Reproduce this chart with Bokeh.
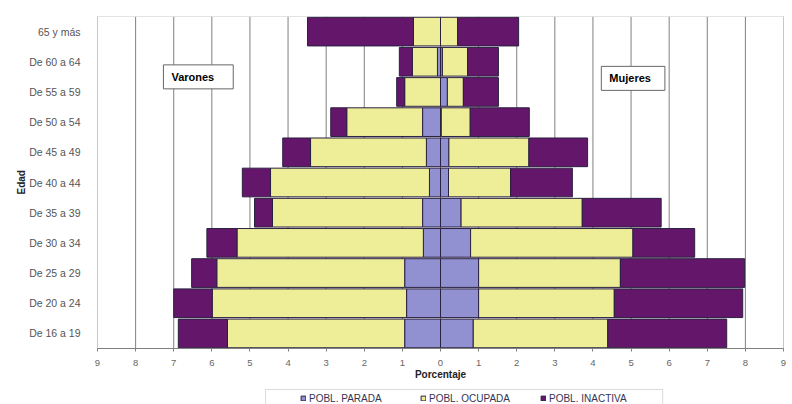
from bokeh.plotting import figure
from bokeh.models import (Range1d, FixedTicker, Legend, LegendItem, Label, BoxAnnotation, Title)
from bokeh.embed import file_html
from bokeh.resources import INLINE
import numpy as np

# ---------------- data ----------------
edades = ["De 16 a 19", "De 20 a 24", "De 25 a 29", "De 30 a 34", "De 35 a 39",
          "De 40 a 44", "De 45 a 49", "De 50 a 54", "De 55 a 59", "De 60 a 64",
          "65 y más"]

var_parada   = [0.94, 0.89, 0.94, 0.45, 0.47, 0.29, 0.37, 0.47, 0.00, 0.08, 0.00]
var_ocupada  = [4.65, 5.10, 4.93, 4.89, 3.94, 4.17, 3.04, 1.99, 0.94, 0.66, 0.71]
var_inactiva = [1.29, 1.01, 0.66, 0.79, 0.47, 0.74, 0.73, 0.42, 0.21, 0.34, 2.78]

muj_parada   = [0.86, 1.00, 1.00, 0.79, 0.54, 0.21, 0.22, 0.02, 0.18, 0.05, 0.00]
muj_ocupada  = [3.53, 3.56, 3.72, 4.26, 3.18, 1.63, 2.10, 0.76, 0.42, 0.66, 0.45]
muj_inactiva = [3.12, 3.37, 3.26, 1.62, 2.07, 1.62, 1.54, 1.55, 0.92, 0.81, 1.60]

series = ["POBL. PARADA", "POBL. OCUPADA", "POBL. INACTIVA"]
x_ticks = list(range(-9, 10))

# ---------------- style ----------------
FONT = "Liberation Sans"
COLORS = ["#9191d2", "#eeee98", "#64176a"]
EDGE = "#2a2040"

n = len(edades)
ypos = np.arange(n) + 0.5          # category centres
Y_BOTTOM = -1.855                  # room under the bar area for axis texts and legend
X_PAD = 0.21                       # room beside the bar area for the outer tick labels

p = figure(width=792, height=404, output_backend="svg", toolbar_location=None,
           x_range=Range1d(x_ticks[0] - X_PAD, x_ticks[-1] + X_PAD),
           y_range=Range1d(Y_BOTTOM, n),
           min_border_left=89, min_border_right=1, min_border_top=16,
           min_border_bottom=0)
p.background_fill_color = "white"
p.border_fill_color = "white"
p.outline_line_color = None

# vertical grid lines and plot-area border (restricted to the bar area)
p.segment(x0=x_ticks, y0=[0] * len(x_ticks), x1=x_ticks, y1=[n] * len(x_ticks),
          line_color="#808080", line_width=1)
p.quad(left=[x_ticks[0]], right=[x_ticks[-1]], bottom=[0], top=[n],
       fill_color=None, line_color="#c8c8c8", line_width=1)

# stacked bars: men to the left (negative), women to the right
male = [np.array(var_parada), np.array(var_ocupada), np.array(var_inactiva)]
fem = [np.array(muj_parada), np.array(muj_ocupada), np.array(muj_inactiva)]

renderers = []
cum = np.zeros(n)
for vals, col in zip(male, COLORS):
    r = p.hbar(y=ypos, left=-(cum + vals), right=-cum, height=0.95,
               fill_color=col, line_color=EDGE, line_width=1)
    renderers.append(r)
    cum = cum + vals
cum = np.zeros(n)
for vals, col in zip(fem, COLORS):
    p.hbar(y=ypos, left=cum, right=cum + vals, height=0.95,
           fill_color=col, line_color=EDGE, line_width=1)
    cum = cum + vals

# x axis placed at the bottom of the bar area
p.xaxis.fixed_location = 0
p.xaxis.bounds = (x_ticks[0], x_ticks[-1])
p.xaxis.ticker = FixedTicker(ticks=x_ticks)
p.xaxis.major_label_overrides = {t: str(abs(t)) for t in x_ticks}
p.xaxis.major_label_text_font = FONT
p.xaxis.major_label_text_font_size = "9.5px"
p.xaxis.major_label_text_color = "#666666"
p.xaxis.major_label_standoff = 8
p.xaxis.major_tick_in = 0
p.xaxis.major_tick_out = 3
p.xaxis.minor_tick_line_color = None
p.xaxis.axis_line_color = "#808080"
p.xaxis.major_tick_line_color = "#808080"
p.xaxis.axis_label = "Porcentaje"
p.xaxis.axis_label_text_font = FONT
p.xaxis.axis_label_text_font_style = "bold"
p.xaxis.axis_label_text_font_size = "10px"
p.xaxis.axis_label_text_color = "#222222"
p.xaxis.axis_label_standoff = 0

# y axis with age-group labels
p.yaxis.ticker = FixedTicker(ticks=list(ypos))
p.yaxis.major_label_overrides = {float(y): e for y, e in zip(ypos, edades)}
p.yaxis.axis_line_color = None
p.yaxis.major_tick_line_color = None
p.yaxis.minor_tick_line_color = None
p.yaxis.major_label_text_font = FONT
p.yaxis.major_label_text_font_size = "10.5px"
p.yaxis.major_label_text_color = "#555555"
p.yaxis.major_label_standoff = 3

p.xgrid.grid_line_color = None
p.ygrid.grid_line_color = None

# "Edad" as a vertical title left of the age labels
p.add_layout(Title(text="Edad", align="left", offset=210, standoff=0,
                   text_font=FONT, text_font_style="bold", text_font_size="10px",
                   text_color="#222222"), "left")

# sex labels in boxes
for txt, xx, yy, pad in [("Varones", -7.27, 9.0, dict(left=8, right=19, top=6, bottom=6)),
                         ("Mujeres", 4.22, 8.95, dict(left=8, right=14, top=6, bottom=6))]:
    p.add_layout(Label(x=xx, y=yy, text=txt, text_font=FONT, text_font_size="11px",
                       text_font_style="bold", text_color="black",
                       text_baseline="middle", text_align="left",
                       border_line_color="#666666", border_line_width=1,
                       background_fill_color="white", padding=pad))

# legend box + legend
p.add_layout(BoxAnnotation(left=-4.59, right=5.83, top=-1.358, bottom=Y_BOTTOM - 1,
                           fill_alpha=0, line_color="#8a8a8a", line_width=1,
                           editable=False))
legend = Legend(items=[LegendItem(label=s, renderers=[r]) for s, r in zip(series, renderers)],
                orientation="horizontal", location=(211, 0),
                label_text_font=FONT, label_text_font_size="10px",
                label_text_color="#333355", glyph_width=6, glyph_height=6,
                label_standoff=3, label_width=82, label_height=12, spacing=29,
                padding=0, margin=0, border_line_alpha=0, background_fill_alpha=0)
p.add_layout(legend, "center")

open("out.html", "w").write(file_html(p, INLINE))
